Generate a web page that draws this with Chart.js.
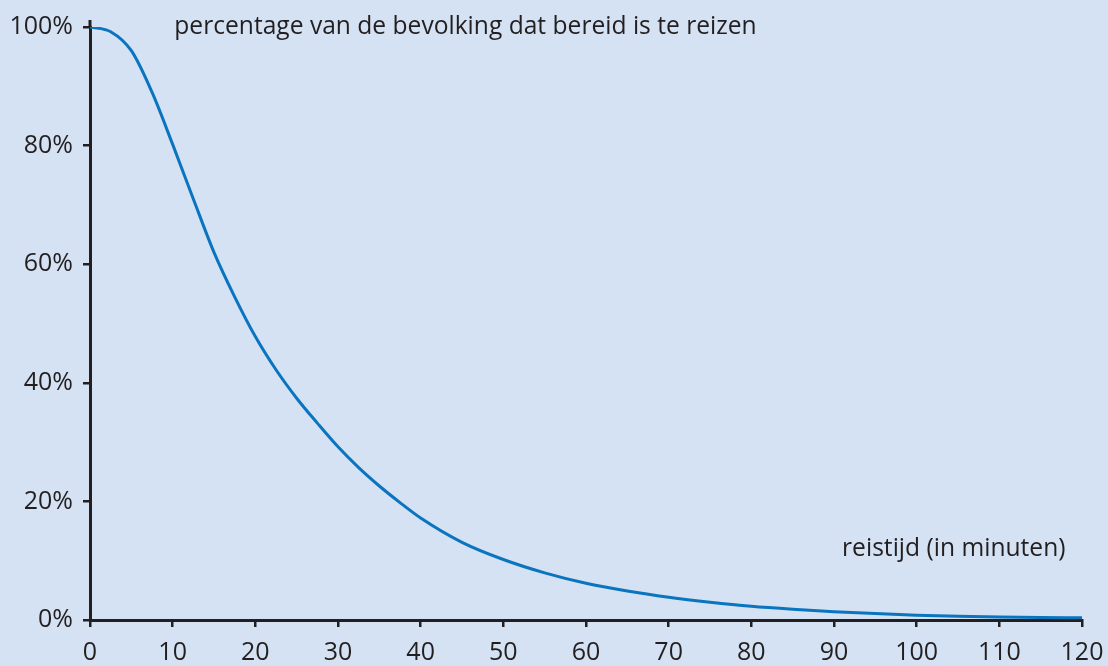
<!DOCTYPE html>
<html>
<head>
<meta charset="utf-8">
<script src="https://cdn.jsdelivr.net/npm/chart.js@4.4.1/dist/chart.umd.min.js"></script>
<style>
    html, body { margin: 0; padding: 0; background: #d4e2f3; }
    #wrap { width: 1108px; height: 666px; }
</style>
</head>
<body>
<div id="wrap"><canvas id="reisChart" width="1108" height="666"></canvas></div>
<script>
// Travel time in minutes and share of the population willing to travel it (%)
const minutes = [0, 2.5, 5, 7.5, 10, 12.5, 15, 17.5, 20, 22.5, 25, 27.5, 30, 32.5, 35, 37.5, 40, 45, 50, 55, 60, 65, 70, 75, 80, 85, 90, 95, 100, 105, 110, 115, 120];
const percentage = [100, 99.2, 96.0, 89.0, 80.2, 71.0, 62.0, 54.5, 47.8, 42.2, 37.4, 33.2, 29.2, 25.7, 22.6, 19.8, 17.2, 13.1, 10.2, 7.95, 6.2, 4.9, 3.85, 3.0, 2.3, 1.8, 1.4, 1.08, 0.82, 0.63, 0.5, 0.42, 0.36];

const xTicks = [0, 10, 20, 30, 40, 50, 60, 70, 80, 90, 100, 110, 120];
const yTicks = [0, 20, 40, 60, 80, 100];

const titleText = 'percentage van de bevolking dat bereid is te reizen';
const xAxisText = 'reistijd (in minuten)';

const inkColor = '#231f20';
const lineColor = '#0a74bf';
const fontFamily = "'Open Sans', 'Noto Sans', sans-serif";
const fontSize = 25;

// Draws the two annotation texts and the small axis overhang at the top
const labelsPlugin = {
    id: 'labels',
    afterDraw(chart) {
        const ctx = chart.ctx;
        const x = chart.scales.x;
        const y = chart.scales.y;
        ctx.save();
        ctx.strokeStyle = inkColor;
        ctx.lineWidth = 3;
        ctx.beginPath();
        ctx.moveTo(x.left, y.top);
        ctx.lineTo(x.left, y.top - 7);
        ctx.stroke();

        ctx.fillStyle = inkColor;
        ctx.font = '24.6px ' + fontFamily;
        ctx.textBaseline = 'middle';
        ctx.textAlign = 'left';
        ctx.fillText(titleText, x.getPixelForValue(10.2), y.getPixelForValue(100));
        ctx.textAlign = 'right';
        ctx.fillText(xAxisText, x.getPixelForValue(118), y.getPixelForValue(12));
        ctx.restore();
    }
};

const points = minutes.map((m, i) => ({ x: m, y: percentage[i] }));

new Chart(document.getElementById('reisChart').getContext('2d'), {
    type: 'line',
    data: {
        datasets: [{
            data: points,
            borderColor: lineColor,
            borderWidth: 3,
            pointRadius: 0,
            fill: false,
            cubicInterpolationMode: 'monotone'
        }]
    },
    options: {
        responsive: false,
        animation: false,
        layout: { padding: { top: 27, right: 26, left: 0, bottom: 0 } },
        plugins: {
            legend: { display: false },
            tooltip: { enabled: false }
        },
        scales: {
            x: {
                type: 'linear',
                min: 0,
                max: 120,
                afterFit(scale) {
                    scale.height = 46;
                    scale.paddingLeft = 0;
                    scale.paddingRight = 0;
                },
                afterBuildTicks(scale) { scale.ticks = xTicks.map(v => ({ value: v })); },
                border: { display: true, color: inkColor, width: 3 },
                grid: { drawOnChartArea: false, drawTicks: true, tickLength: 7, color: inkColor, lineWidth: 2.5 },
                ticks: { color: inkColor, font: { size: fontSize, family: fontFamily }, padding: 11, maxRotation: 0 }
            },
            y: {
                min: 0,
                max: 100,
                afterFit(scale) { scale.width = 90; },
                afterBuildTicks(scale) { scale.ticks = yTicks.map(v => ({ value: v })); },
                border: { display: true, color: inkColor, width: 3 },
                grid: { drawOnChartArea: false, drawTicks: true, tickLength: 7, color: inkColor, lineWidth: 2.5 },
                ticks: { color: inkColor, font: { size: fontSize, family: fontFamily }, padding: 10, callback: v => v + '%' }
            }
        }
    },
    plugins: [labelsPlugin]
});
</script>
</body>
</html>
